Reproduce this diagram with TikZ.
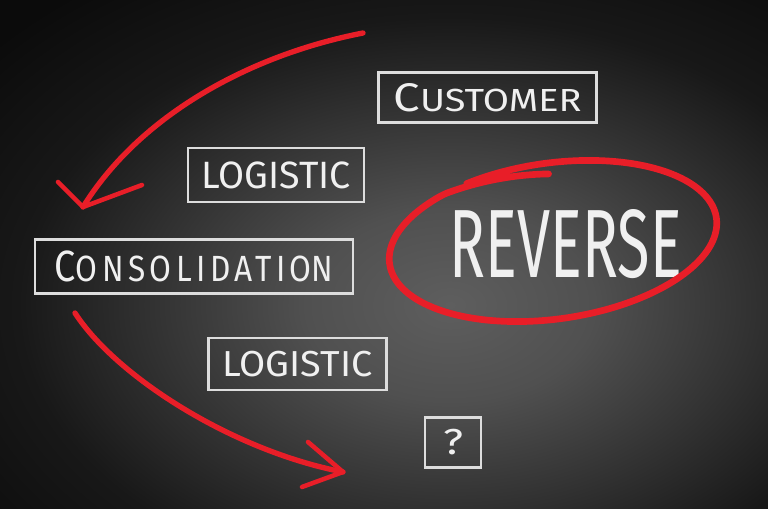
\documentclass[tikz,border=0pt]{standalone}
\usepackage{fontspec}
\setmainfont{Fira Sans}
\usepackage{graphicx}
\definecolor{chalkred}{RGB}{232,30,40}
\definecolor{chalk}{RGB}{240,240,240}
\definecolor{bgA}{RGB}{94,94,94}
\definecolor{bgB}{RGB}{80,80,80}
\definecolor{bgC}{RGB}{52,52,52}
\definecolor{bgD}{RGB}{24,24,24}
\definecolor{bgE}{RGB}{11,11,11}
\pgfdeclareradialshading{board}{\pgfpoint{0bp}{0bp}}{color(0bp)=(bgA); color(6bp)=(bgB); color(12bp)=(bgC); color(18bp)=(bgD); color(25bp)=(bgE); color(50bp)=(bgE)}
\tikzset{
  chalkbox/.style={draw=chalk!92!black, line width=2.1pt, inner sep=0pt, text=chalk},
  redstroke/.style={draw=chalkred, line width=4pt, line cap=round, line join=round},
  redarm/.style={draw=chalkred, line width=3.4pt, line cap=round},
}
\begin{document}
\begin{tikzpicture}[x=0.75pt,y=-0.75pt]
\useasboundingbox (0,0) rectangle (768,509);
\fill[bgE] (0,0) rectangle (768,509);
\begin{scope}
  \clip (0,0) rectangle (768,509);
  \shade[shading=board] (450,305) ellipse[x radius=600, y radius=400];
\end{scope}

% boxes
\node[chalkbox, minimum width=164pt, minimum height=38pt] (customer) at (487.5,97.5)
  {\resizebox{141pt}{21pt}{{\fontsize{30}{30}\selectfont C}{\fontsize{24}{24}\selectfont USTOMER}}};
\node[chalkbox, minimum width=132pt, minimum height=40.5pt] (logistic1) at (276,175)
  {\resizebox{112pt}{20pt}{LOGISTIC}};
\node[chalkbox, minimum width=238.5pt, minimum height=40pt] (consolidation) at (194,266.5)
  {\resizebox{209pt}{23pt}{{\fontsize{30}{30}\selectfont C}{\fontsize{25}{25}\selectfont\addfontfeatures{LetterSpace=14}ONSOLIDATIO}{\fontsize{25}{25}\selectfont N}}};
\node[chalkbox, minimum width=133pt, minimum height=39pt] (logistic2) at (297.5,364)
  {\resizebox{112.5pt}{19pt}{LOGISTIC}};
\node[chalkbox, minimum width=42pt, minimum height=38pt] (question) at (453,442.5)
  {\resizebox{15pt}{19pt}{?}};

% reverse
\node[inner sep=0pt, text=chalk] (reverse) at (566,244)
  {\resizebox{174pt}{51pt}{REVERSE}};
\begin{scope}[shift={(553,241)}, rotate=8]
  \draw[redstroke, line width=5pt] plot[smooth, domain=-118:272, samples=120]
    ({165*cos(\x)*min(1,0.86+0.0035*(272-\x))}, {78*sin(\x)*min(1,0.86+0.0035*(272-\x))});
\end{scope}

% arrow 1
\coordinate (a1s) at (363,33);
\coordinate (a1t) at (83,207);
\coordinate (a1l) at (58,182);
\coordinate (a1r) at (142,185);
\draw[redstroke] (a1s) .. controls (250,55) and (140,115) .. (a1t);
\draw[redarm] (a1t) -- (a1l);
\draw[redarm] (a1t) -- (a1r);

% arrow 2
\coordinate (a2s) at (75,313);
\coordinate (a2t) at (343,472);
\coordinate (a2u) at (308,442);
\coordinate (a2d) at (302,487);
\draw[redstroke] (a2s) .. controls (115,375) and (230,450) .. (a2t);
\draw[redarm] (a2t) -- (a2u);
\draw[redarm] (a2t) -- (a2d);
\end{tikzpicture}
\end{document}
